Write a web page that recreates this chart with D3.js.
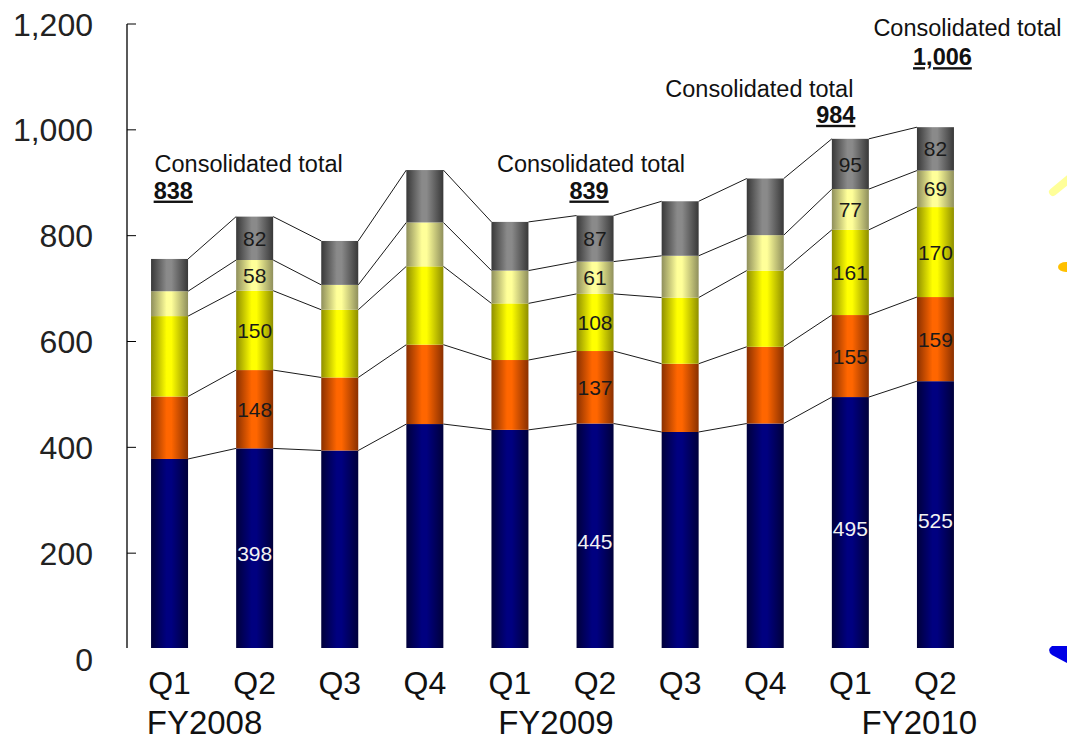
<!DOCTYPE html>
<html>
<head>
<meta charset="utf-8">
<script src="https://cdn.jsdelivr.net/npm/d3@7"></script>
<style>
  html, body { margin: 0; padding: 0; background: #fff; }
  svg { display: block; font-family: "Liberation Sans", Arial, Helvetica, sans-serif; }
</style>
</head>
<body>
<svg id="chart" width="1067" height="741"></svg>
<script>
// Quarterly sales, stacked by segment (bottom to top)
const quarters = ["Q1", "Q2", "Q3", "Q4", "Q1", "Q2", "Q3", "Q4", "Q1", "Q2"];
const fiscalYears = ["FY2008", "FY2009", "FY2010"];
const fiscalYearFirstQuarter = [0, 4, 8];

const seriesKeys = ["s1", "s2", "s3", "s4", "s5"];
const s1 = [378, 398, 394, 444, 433, 445, 429, 445, 495, 525];
const s2 = [118, 148, 138, 150, 132, 137, 129, 145, 155, 159];
const s3 = [152, 150, 128, 148, 107, 108, 125, 144, 161, 170];
const s4 = [47, 58, 47, 83, 62, 61, 79, 67, 77, 69];
const s5 = [61, 82, 83, 99, 92, 87, 103, 107, 95, 82];

// Quarters whose segment values are printed on the bars
const labelledQuarters = [1, 5, 8, 9];

// Consolidated totals called out above selected bars
const totalQuarters = [1, 5, 8, 9];
const totalValues = [838, 839, 984, 1006];

const yTicks = [0, 200, 400, 600, 800, 1000, 1200];

// ---- build table ----
const rows = quarters.map((q, i) => ({
  i, q, s1: s1[i], s2: s2[i], s3: s3[i], s4: s4[i], s5: s5[i]
}));
const stacked = d3.stack().keys(seriesKeys)(rows);

const svg = d3.select("#chart");

// ---- scales ----
const y = d3.scaleLinear().domain([0, 1200]).range([659, 24]);
const x = d3.scalePoint().domain(d3.range(quarters.length)).range([127, 978]).padding(0.5);
const barW = 37;
const plotBottom = y(0) - 11;   // visible bottom edge of the bar area

// ---- gradients (dark edges, bright centre) ----
const palette = {
  s1: ["#00003a", "#000080"],
  s2: ["#8a3000", "#ff6600"],
  s3: ["#8f8f00", "#ffff00"],
  s4: ["#8f8f5c", "#ffff99"],
  s5: ["#383838", "#8a8a8a"]
};
const defs = svg.append("defs");
seriesKeys.forEach(k => {
  const g = defs.append("linearGradient").attr("id", "grad-" + k)
    .attr("x1", 0).attr("x2", 1).attr("y1", 0).attr("y2", 0);
  g.append("stop").attr("offset", "0%").attr("stop-color", palette[k][0]);
  g.append("stop").attr("offset", "42%").attr("stop-color", palette[k][1]);
  g.append("stop").attr("offset", "55%").attr("stop-color", palette[k][1]);
  g.append("stop").attr("offset", "100%").attr("stop-color", palette[k][0]);
});
defs.append("clipPath").attr("id", "plot-clip")
  .append("rect").attr("x", 0).attr("y", 0).attr("width", 1067).attr("height", plotBottom);

// ---- y axis ----
const axisG = svg.append("g").attr("clip-path", "url(#plot-clip)");
axisG.append("line")
  .attr("x1", 127).attr("x2", 127)
  .attr("y1", y(1200)).attr("y2", y(0))
  .attr("stroke", "#000").attr("stroke-width", 1.3);
axisG.selectAll("line.tick").data(yTicks).join("line")
  .attr("class", "tick")
  .attr("x1", 127).attr("x2", 136)
  .attr("y1", d => y(d)).attr("y2", d => y(d))
  .attr("stroke", "#000").attr("stroke-width", 1);

svg.append("g").selectAll("text").data(yTicks).join("text")
  .attr("x", 93).attr("y", d => y(d)).attr("dy", "0.36em")
  .attr("text-anchor", "end")
  .attr("font-size", 32).attr("fill", "#222")
  .text(d => d3.format(",")(d));

// ---- connector lines between adjacent bars ----
const linkG = svg.append("g");
stacked.forEach(layer => {
  for (let i = 0; i < layer.length - 1; i++) {
    linkG.append("line")
      .attr("x1", x(i) + barW / 2).attr("y1", y(layer[i][1]))
      .attr("x2", x(i + 1) - barW / 2).attr("y2", y(layer[i + 1][1]))
      .attr("stroke", "#1a1a1a").attr("stroke-width", 1);
  }
});

// ---- stacked bars ----
const barG = svg.append("g").attr("clip-path", "url(#plot-clip)");
barG.selectAll("g").data(stacked).join("g")
  .attr("fill", d => "url(#grad-" + d.key + ")")
  .selectAll("rect").data(d => d).join("rect")
  .attr("x", (d, i) => x(i) - barW / 2)
  .attr("width", barW)
  .attr("y", d => y(d[1]))
  .attr("height", d => y(d[0]) - y(d[1]));

// ---- segment value labels ----
const segLabels = [];
stacked.forEach(layer => {
  labelledQuarters.forEach(i => {
    const d = layer[i];
    segLabels.push({ key: layer.key, i, v: d[1] - d[0], mid: (d[0] + d[1]) / 2 });
  });
});
svg.append("g").selectAll("text").data(segLabels).join("text")
  .attr("x", d => x(d.i)).attr("y", d => y(d.mid)).attr("dy", "0.36em")
  .attr("text-anchor", "middle")
  .attr("font-size", 21)
  .attr("fill", d => d.key === "s1" ? "#f2f2f2" : "#1a1a1a")
  .text(d => d.v);

// ---- consolidated total call-outs ----
// layout per call-out: caption centre offset, number anchor and offsets from the bar top
const calloutLayout = [
  { capDx: -6, capDy: -45, numAnchor: "start", numDx: -101, numDy: -18 },
  { capDx: -4, capDy: -44, numAnchor: "middle", numDx: -6, numDy: -17 },
  { capDx: -91, capDy: -42, numAnchor: "end", numDx: 5, numDy: -16 },
  { capDx: 32, capDy: -91, numAnchor: "middle", numDx: 7, numDy: -62 }
];
const callG = svg.append("g");
totalQuarters.forEach((qi, k) => {
  const top = stacked[stacked.length - 1][qi][1];
  const L = calloutLayout[k];
  const cx = x(qi);
  callG.append("text")
    .attr("x", cx + L.capDx).attr("y", y(top) + L.capDy)
    .attr("text-anchor", "middle")
    .attr("font-size", 23.5).attr("fill", "#111")
    .text("Consolidated total");
  callG.append("text")
    .attr("x", cx + L.numDx).attr("y", y(top) + L.numDy)
    .attr("text-anchor", L.numAnchor)
    .attr("font-size", 23.5).attr("font-weight", "bold")
    .attr("text-decoration", "underline")
    .attr("fill", "#111")
    .text(d3.format(",")(totalValues[k]));
});

// ---- x axis labels ----
svg.append("g").selectAll("text").data(quarters).join("text")
  .attr("x", (d, i) => x(i)).attr("y", 694)
  .attr("text-anchor", "middle")
  .attr("font-size", 32).attr("fill", "#111")
  .text(d => d);

const fyDx = [35, 46, 69];
svg.append("g").selectAll("text").data(fiscalYears).join("text")
  .attr("x", (d, k) => x(fiscalYearFirstQuarter[k]) + fyDx[k]).attr("y", 734)
  .attr("text-anchor", "middle")
  .attr("font-size", 33).attr("fill", "#111")
  .text(d => d);

// ---- decorative shapes along the right edge ----
const deco = svg.append("g");
deco.append("line").attr("x1", 1053).attr("y1", 192).attr("x2", 1070).attr("y2", 178)
  .attr("stroke", "#ffff99").attr("stroke-width", 8).attr("stroke-linecap", "round");
deco.append("ellipse").attr("cx", 1066).attr("cy", 267).attr("rx", 8).attr("ry", 5)
  .attr("fill", "#ffc000");
deco.append("path").attr("d", "M1067,646 L1052,646 Q1046,650 1052,655 L1067,663 Z")
  .attr("fill", "#0000e6");
</script>
</body>
</html>
